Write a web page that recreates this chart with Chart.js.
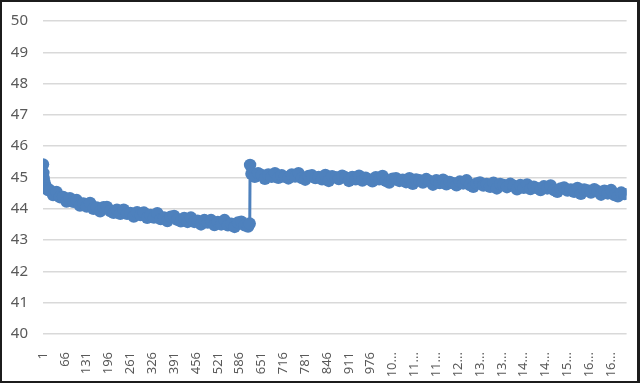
<!DOCTYPE html>
<html>
<head>
<meta charset="utf-8">
<script src="https://cdn.jsdelivr.net/npm/chart.js@4.4.1/dist/chart.umd.min.js"></script>
<style>
  html, body { margin: 0; padding: 0; background: #fff; }
  #frame {
    width: 640px; height: 383px; box-sizing: border-box;
    border: 2px solid #1c1c1c; border-right-width: 3px;
    position: relative; background: #fff;
  }
  #chart { display: block; }
</style>
</head>
<body>
<div id="frame"><canvas id="chart" width="635" height="379"></canvas></div>
<script>
const CATS = [
  1, 2, 3, 5, 8, 12, 16,
  21, 31, 41, 51, 61, 71, 81, 91, 101, 111,
  121, 131, 141, 151, 161, 171, 181, 191, 201, 211,
  221, 231, 241, 251, 261, 271, 281, 291, 301, 311,
  321, 331, 341, 351, 361, 371, 381, 391, 401, 411,
  421, 431, 441, 451, 461, 471, 481, 491, 501, 511,
  521, 531, 541, 551, 561, 571, 581, 591, 601, 611,
  616, 617, 621,
  631, 641, 651, 661, 671, 681, 691, 701, 711, 721,
  731, 741, 751, 761, 771, 781, 791, 801, 811, 821,
  831, 841, 851, 861, 871, 881, 891, 901, 911, 921,
  931, 941, 951, 961, 971, 981, 991, 1001, 1011, 1021,
  1031, 1041, 1051, 1061, 1071, 1081, 1091, 1101, 1111, 1121,
  1131, 1141, 1151, 1161, 1171, 1181, 1191, 1201, 1211, 1221,
  1231, 1241, 1251, 1261, 1271, 1281, 1291, 1301, 1311, 1321,
  1331, 1341, 1351, 1361, 1371, 1381, 1391, 1401, 1411, 1421,
  1431, 1441, 1451, 1461, 1471, 1481, 1491, 1501, 1511, 1521,
  1531, 1541, 1551, 1561, 1571, 1581, 1591, 1601, 1611, 1621,
  1631, 1641, 1651, 1661, 1671, 1681, 1691, 1701, 1711, 1721,
  1731
];
const VALUES = [
  45.42, 45.15, 44.98, 44.85, 44.75, 44.66, 44.60,
  44.60, 44.44, 44.54, 44.37, 44.38, 44.23, 44.34, 44.22, 44.28, 44.10,
  44.17, 44.07, 44.19, 44.00, 44.04, 43.92, 44.05, 44.06, 43.93, 43.87,
  43.97, 43.84, 43.97, 43.84, 43.87, 43.75, 43.89, 43.80, 43.88, 43.71,
  43.80, 43.72, 43.86, 43.67, 43.72, 43.61, 43.75, 43.77, 43.65, 43.60,
  43.71, 43.58, 43.72, 43.58, 43.62, 43.50, 43.64, 43.56, 43.64, 43.48,
  43.58, 43.50, 43.64, 43.47, 43.52, 43.42, 43.56, 43.59, 43.47, 43.43,
  43.53, 45.40, 45.12,
  45.02, 45.14, 45.08, 44.96, 45.10, 45.02, 45.14, 44.99, 45.07, 45.02,
  44.97, 45.10, 45.03, 45.14, 44.98, 44.93, 45.05, 45.07, 44.98, 45.02,
  44.94, 45.08, 44.89, 45.04, 45.01, 44.95, 45.06, 45.00, 44.89, 45.02,
  44.94, 45.06, 44.90, 44.99, 44.94, 44.88, 45.01, 44.94, 45.05, 44.89,
  44.84, 44.96, 44.98, 44.89, 44.93, 44.85, 44.98, 44.80, 44.94, 44.91,
  44.84, 44.95, 44.89, 44.77, 44.91, 44.82, 44.93, 44.78, 44.86, 44.82,
  44.75, 44.87, 44.81, 44.91, 44.76, 44.70, 44.81, 44.84, 44.74, 44.79,
  44.70, 44.83, 44.65, 44.79, 44.76, 44.69, 44.80, 44.74, 44.62, 44.76,
  44.67, 44.78, 44.63, 44.71, 44.66, 44.60, 44.72, 44.65, 44.75, 44.60,
  44.54, 44.65, 44.68, 44.58, 44.62, 44.54, 44.67, 44.48, 44.62, 44.59,
  44.52, 44.63, 44.56, 44.45, 44.58, 44.49, 44.60, 44.44, 44.40, 44.52,
  44.47
];
const LAST_CAT = 1737;
const TICK_VALUES = [
  1, 66, 131, 196, 261, 326, 391, 456, 521, 586, 651, 716, 781, 846, 911, 976,
  1041, 1106, 1171, 1236, 1301, 1366, 1431, 1496, 1561, 1626, 1691
];
const TICK_LABELS = [
  "1", "66", "131", "196", "261", "326", "391", "456", "521", "586", "651", "716",
  "781", "846", "911", "976", "10...", "11...", "11...", "12...", "13...", "13...",
  "14...", "14...", "15...", "16...", "16..."
];

const BLUE = "#4e81bd";
const TEXT = "#595959";
const FONT = "'Noto Sans', 'Open Sans', sans-serif";

const points = CATS.map((c, i) => ({ x: c, y: VALUES[i] }));

new Chart(document.getElementById("chart"), {
  type: "line",
  data: {
    datasets: [{
      data: points,
      borderColor: BLUE,
      backgroundColor: BLUE,
      borderWidth: 3,
      pointRadius: 6.2,
      pointBorderWidth: 0,
      pointBackgroundColor: BLUE,
      tension: 0,
    }],
  },
  options: {
    responsive: false,
    animation: false,
    layout: { padding: { top: 19, right: 10, left: 0, bottom: 0 } },
    plugins: { legend: { display: false }, tooltip: { enabled: false } },
    scales: {
      x: {
        type: "linear",
        min: 1,
        max: LAST_CAT,
        offset: false,
        grid: { display: false },
        border: { display: false },
        afterBuildTicks: (scale) => {
          scale.ticks = TICK_VALUES.map((v) => ({ value: v }));
        },
        afterFit: (scale) => { scale.height = 47; },
        ticks: {
          autoSkip: false,
          minRotation: 90,
          maxRotation: 90,
          padding: 10,
          color: TEXT,
          font: { family: FONT, size: 13 },
          callback: (v, i) => TICK_LABELS[i],
        },
      },
      y: {
        min: 40,
        max: 50,
        grid: { color: "#d9d9d9", lineWidth: 1.5, drawTicks: false },
        border: { display: false },
        afterFit: (scale) => {
          scale.width = 41;
          // tick padding would otherwise push the plot top down
          scale.paddingTop = 0;
          scale.paddingBottom = 0;
        },
        ticks: {
          stepSize: 1,
          padding: 15,
          color: TEXT,
          font: { family: FONT, size: 15 },
        },
      },
    },
  },
});
</script>
</body>
</html>
